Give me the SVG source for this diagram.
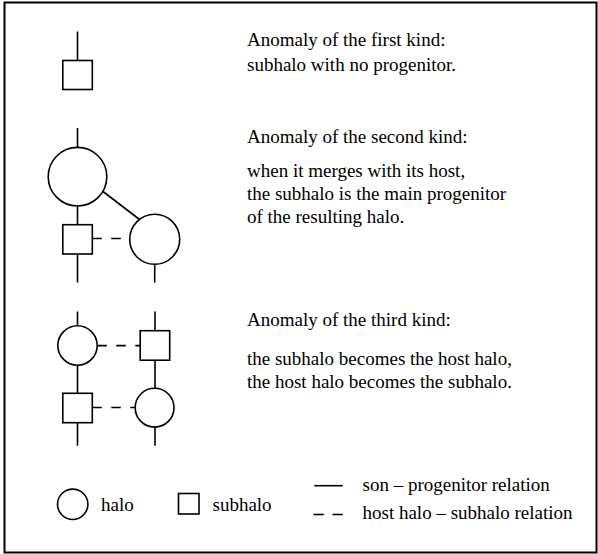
<svg xmlns="http://www.w3.org/2000/svg" width="598" height="554" viewBox="0 0 598 554">
  <style>
    .shape { fill: #fff; stroke: #000; stroke-width: 1.6; }
    .edge { fill: none; stroke: #000; stroke-width: 1.6; }
    .dash { fill: none; stroke: #000; stroke-width: 1.6; stroke-dasharray: 9.5 9.5; }
    text { font-family: "Liberation Serif", "Times New Roman", serif; font-size: 19px; fill: #000; }
  </style>
  <rect x="4.5" y="2.5" width="592" height="550" fill="#fff" stroke="#000" stroke-width="2"/>

  <!-- connectors: solid = son-progenitor, dashed = host-subhalo -->
  <g id="connectors">
    <!-- first kind -->
    <line class="edge" x1="77.5" y1="31.5" x2="77.5" y2="60.5"/>
    <!-- second kind -->
    <line class="edge" x1="77.5" y1="128" x2="77.5" y2="147.5"/>
    <line class="edge" x1="77.5" y1="206" x2="77.5" y2="224.7"/>
    <line class="edge" x1="77.5" y1="254" x2="77.5" y2="282.5"/>
    <line class="edge" x1="103" y1="191.5" x2="139.5" y2="219.5"/>
    <line class="edge" x1="154.7" y1="264" x2="154.7" y2="282.5"/>
    <line class="dash" x1="92.3" y1="238.5" x2="129.5" y2="238.5"/>
    <!-- third kind -->
    <line class="edge" x1="77.5" y1="311.5" x2="77.5" y2="325.8"/>
    <line class="edge" x1="77.5" y1="365.2" x2="77.5" y2="393.3"/>
    <line class="edge" x1="77.5" y1="422.7" x2="77.5" y2="445.7"/>
    <line class="edge" x1="155" y1="311.5" x2="155" y2="330.7"/>
    <line class="edge" x1="155" y1="360.2" x2="155" y2="388.3"/>
    <line class="edge" x1="155" y1="427" x2="155" y2="445.7"/>
    <line class="dash" x1="97.3" y1="345.6" x2="140" y2="345.6"/>
    <line class="dash" x1="92.3" y1="407.5" x2="135" y2="407.5"/>
  </g>

  <g id="first-subhalo">
    <rect class="shape" x="62.8" y="60.5" width="29.5" height="29"/>
  </g>

  <g id="second-halo-main">
    <circle class="shape" cx="77.5" cy="176.7" r="29.3"/>
  </g>
  <g id="second-subhalo">
    <rect class="shape" x="62.8" y="224.7" width="29.5" height="29.3"/>
  </g>
  <g id="second-halo-host">
    <circle class="shape" cx="154.7" cy="239.3" r="25"/>
  </g>

  <g id="third-halo-top">
    <circle class="shape" cx="77.5" cy="345.5" r="19.7"/>
  </g>
  <g id="third-subhalo-top">
    <rect class="shape" x="140.2" y="330.7" width="29.5" height="29.5"/>
  </g>
  <g id="third-subhalo-bottom">
    <rect class="shape" x="62.8" y="393.3" width="29.5" height="29.4"/>
  </g>
  <g id="third-halo-bottom">
    <circle class="shape" cx="154.6" cy="407.7" r="19.4"/>
  </g>

  <g id="captions">
    <text x="247" y="46">Anomaly of the first kind:</text>
    <text x="247" y="70.5">subhalo with no progenitor.</text>
    <text x="247" y="142.7">Anomaly of the second kind:</text>
    <text x="247" y="177">when it merges with its host,</text>
    <text x="247" y="200.3">the subhalo is the main progenitor</text>
    <text x="247" y="223.3">of the resulting halo.</text>
    <text x="247" y="325.5">Anomaly of the third kind:</text>
    <text x="247" y="365">the subhalo becomes the host halo,</text>
    <text x="247" y="388.3">the host halo becomes the subhalo.</text>
  </g>

  <g id="legend">
    <circle class="shape" cx="72.7" cy="504.3" r="15.2"/>
    <text x="101" y="510.5">halo</text>
    <rect class="shape" x="178.5" y="493.5" width="20.5" height="20.5"/>
    <text x="212.5" y="510.5">subhalo</text>
    <line class="edge" x1="314.3" y1="485.7" x2="342.7" y2="485.7"/>
    <text x="362.5" y="490.7">son – progenitor relation</text>
    <line class="edge" x1="313.5" y1="514.5" x2="323.8" y2="514.5"/>
    <line class="edge" x1="332.5" y1="514.5" x2="342.7" y2="514.5"/>
    <text x="362.5" y="519.3">host halo – subhalo relation</text>
  </g>
</svg>
